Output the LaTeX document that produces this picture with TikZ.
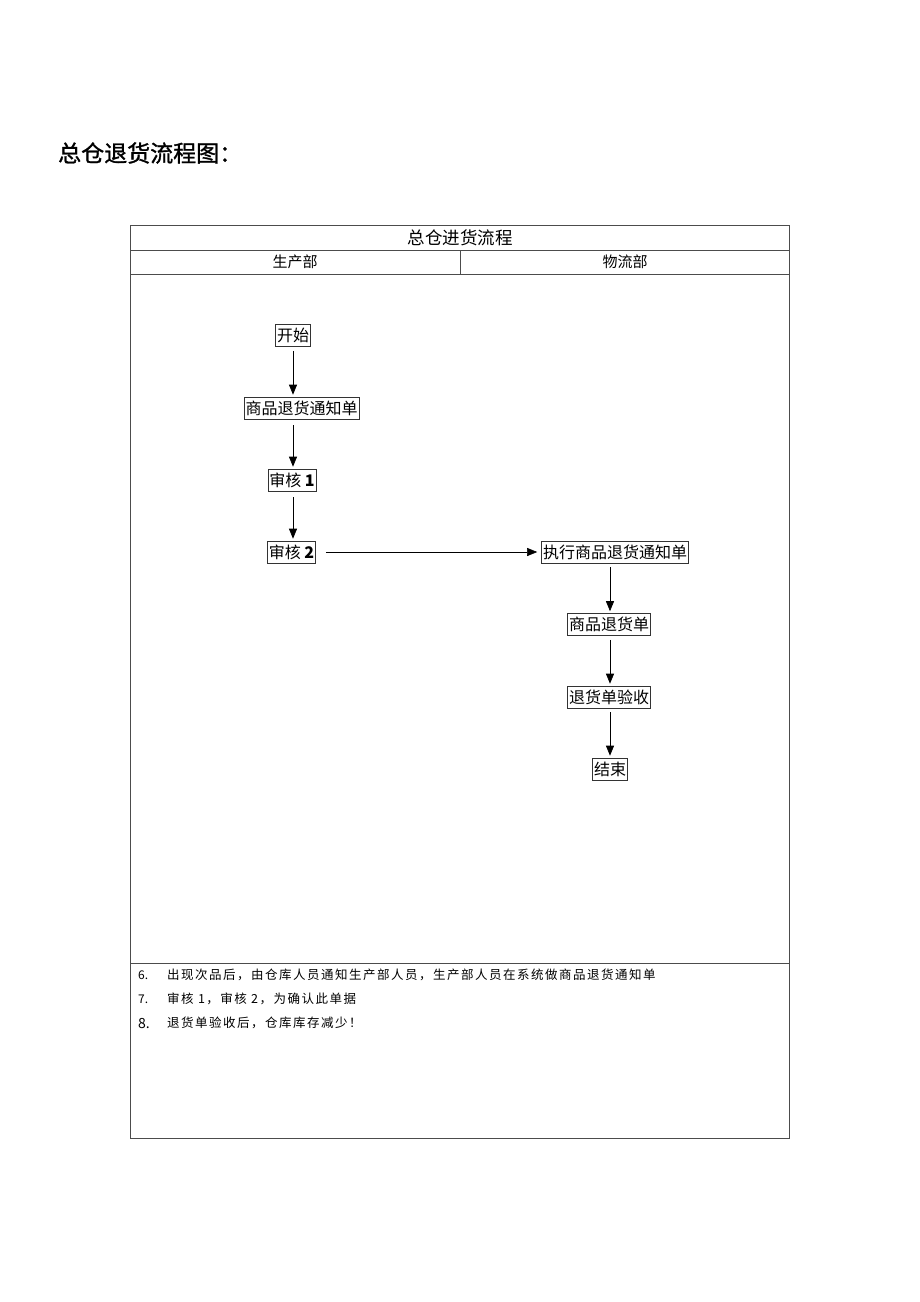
\documentclass[tikz,border=0pt]{standalone}
\usepackage{fontspec}
\setmainfont{Noto Sans CJK SC}
\newfontfamily\notefont[LetterSpace=12]{Noto Sans CJK SC}
\newfontfamily\titlefont[FakeBold=1.2]{Noto Sans CJK SC}
\usetikzlibrary{arrows.meta}
\tikzset{
  flowbox/.style={draw=black!80, line width=0.6pt, inner sep=1.5pt, minimum height=22pt, font=\fontsize{16}{16}\selectfont, anchor=center},
  flowarrow/.style={-{Stealth[length=10pt,width=8pt,inset=0pt]}, line width=0.7pt},
  tabline/.style={draw=black!70, line width=0.6pt},
  notetext/.style={anchor=west, inner sep=0pt, font=\fontsize{12.5}{12.5}\notefont},
}
\begin{document}
\begin{tikzpicture}[x=1pt,y=-1pt]
\useasboundingbox (0,0) rectangle (920,1302);
% title
\node[anchor=west, inner sep=0pt, font=\fontsize{23}{23}\titlefont] (title) at (58,153) {总仓退货流程图：};
% table
\draw[tabline] (130,225) rectangle (789,1138);
\draw[tabline] (130,250) -- (789,250);
\draw[tabline] (130,274) -- (789,274);
\draw[tabline] (460,250) -- (460,274);
\draw[tabline] (130,963) -- (789,963);
\node[font=\fontsize{17.5}{17.5}\selectfont, inner sep=0pt] (head) at (460,238) {总仓进货流程};
\node[font=\fontsize{15}{15}\selectfont, inner sep=0pt] (lane1) at (295,262) {生产部};
\node[font=\fontsize{15}{15}\selectfont, inner sep=0pt] (lane2) at (625,262) {物流部};
% nodes
\node[flowbox] (start) at (293,335.5) {开始};
\node[flowbox] (notice) at (301.5,408) {商品退货通知单};
\node[flowbox] (rev1) at (292,480) {审核 \textbf{1}};
\node[flowbox] (rev2) at (291.5,552) {审核 \textbf{2}};
\node[flowbox] (exec) at (615,552) {执行商品退货通知单};
\node[flowbox] (ret) at (609,624.5) {商品退货单};
\node[flowbox] (check) at (609,697) {退货单验收};
\node[flowbox] (end) at (610,769) {结束};
% connectors
\draw[flowarrow, shorten <=4pt, shorten >=2pt] (start.south -| 293,0) -- (notice.north -| 293,0);
\draw[flowarrow, shorten <=6pt, shorten >=2pt] (notice.south -| 293,0) -- (rev1.north -| 293,0);
\draw[flowarrow, shorten <=6pt, shorten >=2pt] (rev1.south -| 293,0) -- (rev2.north -| 293,0);
\draw[flowarrow, line width=0.5pt, shorten <=10pt, shorten >=4pt] (rev2.east) -- (exec.west);
\draw[flowarrow, shorten <=4pt, shorten >=2pt] (exec.south -| 610,0) -- (ret.north -| 610,0);
\draw[flowarrow, shorten <=4pt, shorten >=2pt] (ret.south -| 610,0) -- (check.north -| 610,0);
\draw[flowarrow, shorten <=4pt, shorten >=2pt] (check.south -| 610,0) -- (end.north -| 610,0);
% notes
\node[notetext, font=\fontsize{12}{12}\selectfont] (n6) at (138,975) {6.};
\node[notetext] (t6) at (167,975) {出现次品后，由仓库人员通知生产部人员，生产部人员在系统做商品退货通知单};
\node[notetext, font=\fontsize{12}{12}\selectfont] (n7) at (138,999) {7.};
\node[notetext] (t7) at (167,999) {审核 1，审核 2，为确认此单据};
\node[notetext, font=\fontsize{14}{14}\selectfont] (n8) at (138,1023) {8.};
\node[notetext] (t8) at (167,1023) {退货单验收后，仓库库存减少！};
\end{tikzpicture}
\end{document}
